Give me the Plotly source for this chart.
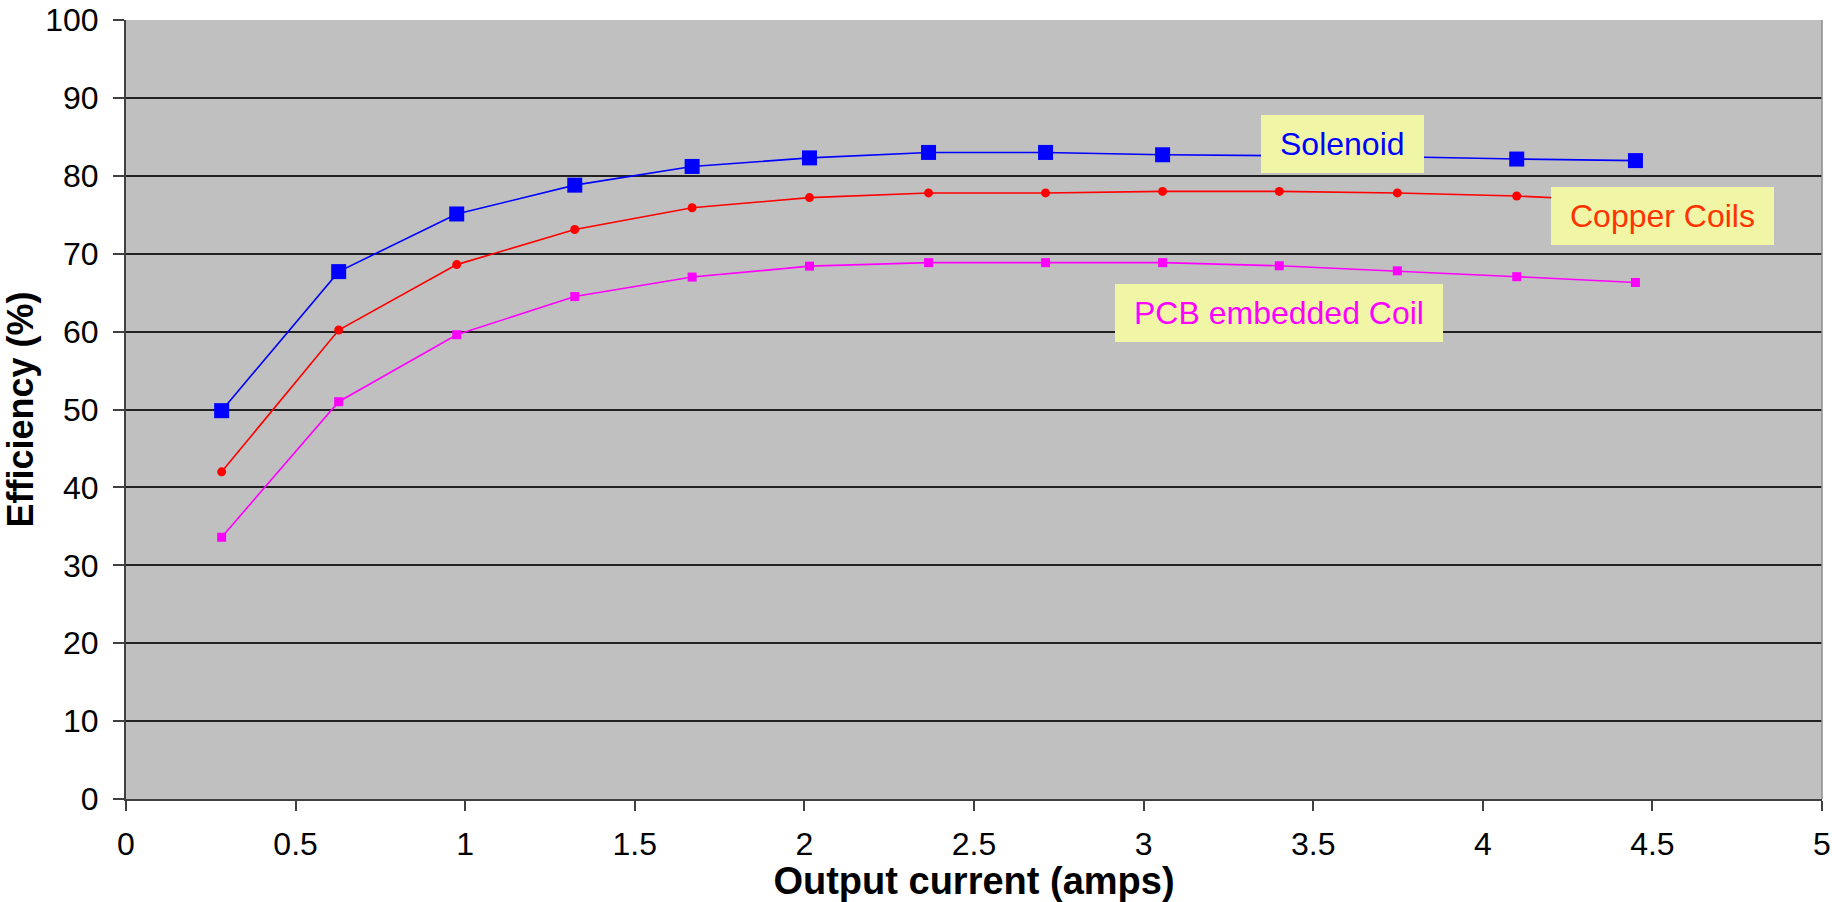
import plotly.graph_objects as go

current = [0.282, 0.627, 0.975, 1.323, 1.669, 2.015, 2.366, 2.711, 3.056, 3.40, 3.748, 4.10, 4.45]
solenoid = [49.85, 67.7, 75.1, 78.8, 81.2, 82.3, 83.0, 83.0, 82.7, 82.6, 82.45, 82.15, 81.95]
copper = [42.0, 60.2, 68.6, 73.1, 75.9, 77.2, 77.8, 77.8, 78.0, 78.0, 77.8, 77.4, 76.7]
pcb = [33.6, 51.0, 59.6, 64.5, 67.0, 68.4, 68.85, 68.85, 68.85, 68.45, 67.8, 67.05, 66.3]

x_ticks = [0, 0.5, 1, 1.5, 2, 2.5, 3, 3.5, 4, 4.5, 5]
y_ticks = [0, 10, 20, 30, 40, 50, 60, 70, 80, 90, 100]

FONT = "Liberation Sans, Arial, sans-serif"

fig = go.Figure()
fig.add_trace(go.Scatter(x=current, y=pcb, mode="lines+markers", name="PCB embedded Coil",
                         line=dict(color="#FF00FF", width=1.6),
                         marker=dict(symbol="square", size=9, color="#FF00FF")))
fig.add_trace(go.Scatter(x=current, y=copper, mode="lines+markers", name="Copper Coils",
                         line=dict(color="#FF0000", width=1.6),
                         marker=dict(symbol="circle", size=9, color="#FF0000")))
fig.add_trace(go.Scatter(x=current, y=solenoid, mode="lines+markers", name="Solenoid",
                         line=dict(color="#0000FF", width=1.6),
                         marker=dict(symbol="square", size=15, color="#0000FF")))

box = "#F1F6A7"
# text, colour, box pixel extents (left, right, top, bottom)
labels = [
    ("Solenoid", "#0000FF", 1261, 1424, 115, 173),
    ("Copper Coils", "#FF3300", 1551, 1774, 187, 245),
    ("PCB embedded Coil", "#FF00FF", 1115, 1443, 284, 342),
]

L, R, T, B = 126, 1822, 20, 799

def px2x(p):
    return (p - L) / (R - L) * 5

def px2y(p):
    return (B - p) / (B - T) * 100

for text, col, x0, x1, y0, y1 in labels:
    fig.add_shape(type="rect", xref="x", yref="y",
                  x0=px2x(x0), x1=px2x(x1), y0=px2y(y1), y1=px2y(y0),
                  fillcolor=box, line=dict(width=0), layer="above")
    fig.add_annotation(x=(px2x(x0) + px2x(x1)) / 2, y=(px2y(y0) + px2y(y1)) / 2,
                       xref="x", yref="y", text=text, showarrow=False,
                       font=dict(family=FONT, size=32, color=col))

# right border of plot area
fig.add_shape(type="line", xref="paper", yref="paper", x0=1, x1=1, y0=0, y1=1,
              line=dict(color="#8C8C8C", width=1.5))

fig.update_layout(
    width=1832, height=902,
    margin=dict(l=L, r=1832 - R, t=T, b=902 - B, autoexpand=False),
    paper_bgcolor="white", plot_bgcolor="#C0C0C0",
    showlegend=False,
    font=dict(family=FONT, color="black"),
    xaxis=dict(range=[0, 5], tickvals=x_ticks, ticktext=[str(v) for v in x_ticks],
               showgrid=False, zeroline=False, showline=True, linecolor="#404040", linewidth=2,
               ticks="outside", ticklen=10, tickcolor="#404040", tickwidth=1.5,
               ticklabelstandoff=6, automargin=False,
               tickfont=dict(size=32, family=FONT),
               title=dict(text="<b>Output current (amps)</b>", font=dict(size=38, family=FONT), standoff=0)),
    yaxis=dict(range=[0, 100], tickvals=y_ticks, ticktext=[str(v) for v in y_ticks],
               showgrid=True, gridcolor="#222222", gridwidth=1.5, zeroline=False,
               showline=True, linecolor="#404040", linewidth=2,
               ticks="outside", ticklen=11, tickcolor="#404040", tickwidth=1.5,
               ticklabelstandoff=8, automargin=False,
               tickfont=dict(size=32, family=FONT),
               title=dict(text="<b>Efficiency (%)</b>", font=dict(size=36, family=FONT), standoff=6)),
)

fig.write_html("out.html")
